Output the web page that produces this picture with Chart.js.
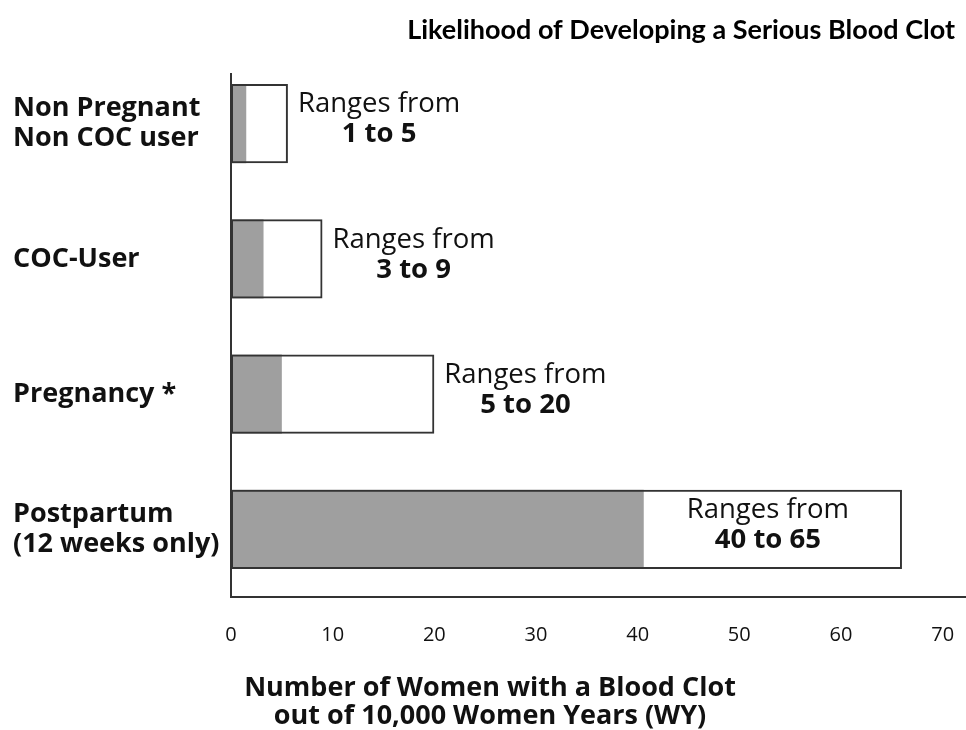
<!DOCTYPE html>
<html>
<head>
<meta charset="utf-8">
<script src="https://cdn.jsdelivr.net/npm/chart.js@4/dist/chart.umd.min.js"></script>
<style>
  html, body { margin: 0; padding: 0; background: #fff; }
  #wrap { width: 966px; height: 730px; position: relative; }
</style>
</head>
<body>
<div id="wrap"><canvas id="chart"></canvas></div>
<script>
// データ
const categories = [
    ['Non Pregnant', 'Non COC user'],
    'COC-User',
    'Pregnancy *',
    ['Postpartum', '(12 weeks only)']
];
const lowValues = [1.5, 3.2, 5, 40.6];
const highValues = [5.6, 9, 20, 66];
const rangeLabels = ['1 to 5', '3 to 9', '5 to 20', '40 to 65'];
const xTicks = [0, 10, 20, 30, 40, 50, 60, 70];
const chartTitle = 'Likelihood of Developing a Serious Blood Clot';
const xTitle = ['Number of Women with a Blood Clot', 'out of 10,000 Women Years (WY)'];

const TEXT = '#111';

// ラベル・タイトル描画
const annotate = {
    id: 'annotate',
    afterDraw(chart) {
        const ctx = chart.ctx;
        const area = chart.chartArea;
        const outline = chart.getDatasetMeta(0).data;
        const gray = chart.getDatasetMeta(1).data;

        ctx.save();
        // 縦軸の線
        ctx.strokeStyle = '#333';
        ctx.lineWidth = 2;
        ctx.beginPath();
        ctx.moveTo(area.left, area.top + 17);
        ctx.lineTo(area.left, area.bottom);
        ctx.stroke();

        // 範囲ラベル
        const regFont = '27.5px "Open Sans"';
        const boldFont = 'bold 27.5px "Open Sans"';
        outline.forEach((bar, i) => {
            ctx.font = regFont;
            const w = ctx.measureText('Ranges from').width;
            const whiteW = bar.x - gray[i].x;
            let cx;
            if (whiteW > w + 30) {
                cx = (gray[i].x + bar.x) / 2 - 5;
            } else {
                cx = bar.x + 10 + w / 2;
            }
            const cy = bar.y - 4;
            ctx.fillStyle = TEXT;
            ctx.textAlign = 'center';
            ctx.textBaseline = 'middle';
            ctx.fillText('Ranges from', cx, cy - 15);
            ctx.font = boldFont;
            ctx.fillText(rangeLabels[i], cx, cy + 15);
        });

        // タイトル
        ctx.font = 'bold 27px Lato';
        ctx.textAlign = 'right';
        ctx.textBaseline = 'middle';
        ctx.fillStyle = '#000';
        ctx.fillText(chartTitle, 955, 30);

        // X軸タイトル
        ctx.font = 'bold 27px "Open Sans"';
        ctx.textAlign = 'center';
        ctx.fillStyle = TEXT;
        ctx.fillText(xTitle[0], 490, 688);
        ctx.fillText(xTitle[1], 490, 716);
        ctx.restore();
    }
};

new Chart(document.getElementById('chart'), {
    type: 'bar',
    data: {
        labels: categories,
        datasets: [{
            // 外枠（最大値まで）
            data: highValues.map(v => [0, v]),
            backgroundColor: 'rgba(255,255,255,0)',
            borderColor: '#333',
            borderWidth: 2,
            borderSkipped: false,
            grouped: false,
            categoryPercentage: 1,
            barPercentage: 0.585
        }, {
            // 最小値まで（灰色）
            data: lowValues.map(v => [0, v]),
            backgroundColor: '#9f9f9f',
            borderWidth: 0,
            grouped: false,
            categoryPercentage: 1,
            barPercentage: 0.585
        }]
    },
    options: {
        indexAxis: 'y',
        responsive: true,
        maintainAspectRatio: false,
        animation: false,
        layout: { padding: { left: 13, top: 56, right: 1, bottom: 0 } },
        plugins: {
            legend: { display: false },
            tooltip: { enabled: false }
        },
        scales: {
            x: {
                min: 0,
                max: 72.2,
                grid: { display: false, drawTicks: false },
                border: { display: true, color: '#333', width: 2 },
                afterBuildTicks(scale) {
                    scale.ticks = xTicks.map(v => ({ value: v }));
                },
                afterFit(scale) {
                    scale.height = 133;
                    scale.paddingLeft = 0;
                    scale.paddingRight = 0;
                },
                ticks: {
                    padding: 26,
                    color: TEXT,
                    font: { family: '"Open Sans"', size: 20 }
                }
            },
            y: {
                grid: { display: false, drawTicks: false },
                border: { display: false },
                afterFit(scale) {
                    scale.width = 218;
                    scale.paddingTop = 0;
                    scale.paddingBottom = 0;
                },
                ticks: {
                    crossAlign: 'far',
                    color: TEXT,
                    font: { family: '"Open Sans"', size: 27, weight: 'bold', lineHeight: 1.12 }
                }
            }
        }
    },
    plugins: [annotate]
});
</script>
</body>
</html>
